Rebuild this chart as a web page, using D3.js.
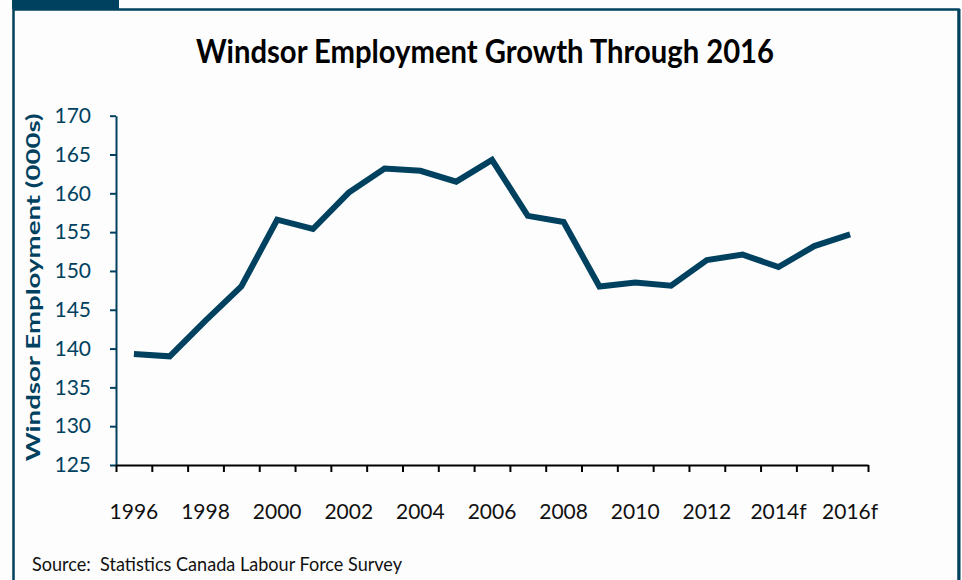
<!DOCTYPE html>
<html>
<head>
<meta charset="utf-8">
<script src="https://cdn.jsdelivr.net/npm/d3@7"></script>
<style>
  html, body { margin: 0; padding: 0; background: #fff; }
  svg { display: block; }
</style>
</head>
<body>
<script>
  // data
  const years = ['1996','1997','1998','1999','2000','2001','2002','2003','2004','2005',
    '2006','2007','2008','2009','2010','2011','2012','2013','2014f','2015f','2016f'];
  const employment = [139.3, 139.0, 143.6, 148.0, 156.6, 155.4, 160.1, 163.2, 162.9, 161.5,
    164.3, 157.1, 156.3, 148.0, 148.5, 148.1, 151.4, 152.1, 150.5, 153.2, 154.7];
  const xLabels = ['1996','1998','2000','2002','2004','2006','2008','2010','2012','2014f','2016f'];
  const yTicks = [125,130,135,140,145,150,155,160,165,170];

  const WIDTH = 962;
  const HEIGHT = 580;
  const DARK = '#00415f';
  const FONT = 'Lato, "Open Sans", sans-serif';

  const PLOT_LEFT = 116;
  const PLOT_RIGHT = 868;
  const PLOT_TOP = 115.7;
  const PLOT_BOTTOM = 465;

  const svg = d3.select('body').append('svg')
    .attr('width', WIDTH)
    .attr('height', HEIGHT)
    .attr('viewBox', `0 0 ${WIDTH} ${HEIGHT}`);

  // frame
  svg.append('rect')
    .attr('x', 0).attr('y', 0).attr('width', WIDTH).attr('height', HEIGHT)
    .attr('fill', '#fdfdfd');
  svg.append('rect')
    .attr('x', 12).attr('y', 0).attr('width', 107).attr('height', 9)
    .attr('fill', DARK);
  svg.append('path')
    .attr('d', `M13.5,${HEIGHT} V9.5 H958.5 V${HEIGHT}`)
    .attr('fill', 'none')
    .attr('stroke', DARK)
    .attr('stroke-width', 2.5);
  svg.append('line')
    .attr('x1', 959.5).attr('x2', 959.5).attr('y1', 9).attr('y2', HEIGHT)
    .attr('stroke', DARK).attr('stroke-width', 2);

  // title
  svg.append('text')
    .attr('x', 485)
    .attr('y', 63)
    .attr('text-anchor', 'middle')
    .attr('font-family', FONT)
    .attr('font-weight', 'bold')
    .attr('font-size', 32)
    .attr('textLength', 578)
    .attr('lengthAdjust', 'spacingAndGlyphs')
    .attr('fill', '#000')
    .text('Windsor Employment Growth Through 2016');

  const x = d3.scaleBand()
    .domain(years)
    .range([PLOT_LEFT, PLOT_RIGHT]);

  const xTickScale = d3.scaleLinear()
    .domain([0, years.length])
    .range([PLOT_LEFT, PLOT_RIGHT]);

  const y = d3.scaleLinear()
    .domain([125, 170])
    .range([PLOT_BOTTOM, PLOT_TOP]);

  // y axis
  const axisY = d3.axisLeft(y)
    .tickValues(yTicks)
    .tickSize(6)
    .tickSizeOuter(0)
    .tickPadding(19)
    .tickFormat(d3.format('d'));

  const gy = svg.append('g')
    .attr('transform', `translate(${PLOT_LEFT},0)`)
    .call(axisY);
  gy.select('.domain').attr('stroke', DARK).attr('stroke-width', 2);
  gy.selectAll('.tick line').attr('stroke', DARK).attr('stroke-width', 2);
  gy.selectAll('.tick text')
    .attr('font-family', FONT)
    .attr('font-size', 21)
    .attr('fill', DARK);

  // x axis: ticks between categories
  const axisX = d3.axisBottom(xTickScale)
    .tickValues(d3.range(years.length + 1))
    .tickSize(7)
    .tickSizeOuter(0)
    .tickFormat('');

  const gx = svg.append('g')
    .attr('transform', `translate(0,${PLOT_BOTTOM})`)
    .call(axisX);
  gx.select('.domain').attr('stroke', '#000').attr('stroke-width', 2);
  gx.selectAll('.tick line').attr('stroke', '#000').attr('stroke-width', 2);

  svg.append('g').selectAll('text')
    .data(xLabels)
    .enter()
    .append('text')
    .attr('x', d => x(d) + x.bandwidth() / 2)
    .attr('y', 519)
    .attr('text-anchor', 'middle')
    .attr('font-family', FONT)
    .attr('font-size', 21)
    .attr('fill', '#111')
    .text(d => d);

  // y axis title
  svg.append('text')
    .attr('transform', `translate(40,${(PLOT_TOP + PLOT_BOTTOM) / 2 - 3}) rotate(-90)`)
    .attr('text-anchor', 'middle')
    .attr('font-family', FONT)
    .attr('font-weight', 'bold')
    .attr('font-size', 19)
    .attr('textLength', 348)
    .attr('lengthAdjust', 'spacingAndGlyphs')
    .attr('fill', DARK)
    .text('Windsor Employment (000s)');

  // line
  const line = d3.line()
    .x((d, i) => x(years[i]) + x.bandwidth() / 2)
    .y(d => y(d));

  svg.append('path')
    .datum(employment)
    .attr('fill', 'none')
    .attr('stroke', DARK)
    .attr('stroke-width', 6)
    .attr('stroke-linejoin', 'miter')
    .attr('d', line);

  // source
  svg.append('text')
    .attr('x', 32)
    .attr('y', 571)
    .attr('font-family', FONT)
    .attr('font-size', 19)
    .attr('textLength', 370)
    .attr('lengthAdjust', 'spacingAndGlyphs')
    .attr('fill', '#111')
    .style('white-space', 'pre')
    .text('Source:  Statistics Canada Labour Force Survey');
</script>
</body>
</html>
